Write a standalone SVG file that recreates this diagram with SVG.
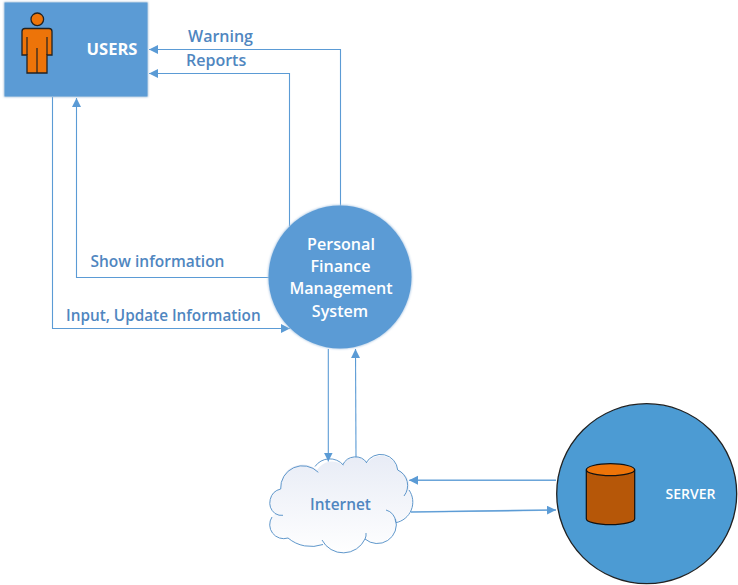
<svg xmlns="http://www.w3.org/2000/svg" width="738" height="585" viewBox="0 0 738 585">
<style>
.c{fill:none;stroke:#5b9bd5;stroke-width:1.1}
.c2{fill:none;stroke:#9cc3e6;stroke-width:1.6}
.l{font-family:"Open Sans","Liberation Sans",sans-serif;font-weight:600;font-size:15.4px;fill:#4f86c0}
.w{font-family:"Open Sans","Liberation Sans",sans-serif;font-weight:600;font-size:16.1px;fill:#fff;text-anchor:middle}
.o{fill:#ed7409;stroke:#222;stroke-width:1.3}
.k{fill:none;stroke:#5f97cb;stroke-width:1}
</style>
<defs>
<marker id="a" markerUnits="userSpaceOnUse" markerWidth="10" markerHeight="10" refX="9" refY="4.5" orient="auto"><path d="M0 0L9 4.5L0 9z" fill="#5b9bd5"/></marker>
<linearGradient id="g" x1="0" y1="0" x2="0" y2="1"><stop offset="0" stop-color="#e8ecf6"/><stop offset="1" stop-color="#fff"/></linearGradient>
<filter id="s" x="-10%" y="-10%" width="120%" height="120%"><feGaussianBlur stdDeviation="0.8"/></filter>
</defs>
<g id="connectors">
<path class="c" d="M340.500 206V49.500H149" marker-end="url(#a)"/>
<path class="c" d="M289.500 226V73.500H149" marker-end="url(#a)"/>
<path class="c" d="M270 277.500H76.500V98" marker-end="url(#a)"/>
<path class="c" d="M52.500 97V328.500H290" marker-end="url(#a)"/>
<path class="c" d="M328.300 349V461.500" marker-end="url(#a)"/>
<path class="c" d="M356 457.500L355.500 349" marker-end="url(#a)"/>
<path class="c2" d="M556 480.200H410"/><path class="c" d="M556 480.200H409" marker-end="url(#a)"/>
<path class="c2" d="M411 512L556 510"/><path class="c" d="M411 512L556 510" marker-end="url(#a)"/>
</g>
<g id="users">
<rect x="4" y="2" width="144" height="95" fill="#9db9d4" filter="url(#s)"/>
<rect x="4.500" y="2.500" width="143" height="94" fill="#5b9bd5"/>
<circle class="o" cx="37.300" cy="19.300" r="6.300"/>
<path class="o" d="M25 28.500H49Q52 28.500 52 31.500V55H47V73H27V55H22V31.500Q22 28.500 25 28.500Z"/>
<path fill="none" stroke="#222" stroke-width="1.200" d="M27 37V55M47 37V55M37 48V73"/>
<text class="w" x="112" y="55" style="font-size:16.500px;font-weight:700">USERS</text>
</g>
<g id="pfms">
<circle cx="340" cy="277" r="72" fill="#a9c6e3" filter="url(#s)"/>
<circle cx="340" cy="277" r="71.500" fill="#5b9bd5"/>
<text class="w" x="341" y="249.500">Personal</text>
<text class="w" x="340.500" y="271.500">Finance</text>
<text class="w" x="341" y="293.500">Management</text>
<text class="w" x="340" y="316.500">System</text>
</g>
<g id="internet">
<path fill="url(#g)" d="M288 538A14 14 0 0 1 272 517L275 513.500A14 14 0 0 1 280.700 489A22 22 0 0 1 317 470A18 18 0 0 1 343 465A14 14 0 0 1 367 463A17 17 0 0 1 397.700 470A17 17 0 0 1 409 490A21 21 0 0 1 395.500 522A19 19 0 0 1 365 539A24 24 0 0 1 322 545A36 36 0 0 1 288 538Z"/>
<path class="k" d="M288 538A14 14 0 0 1 272 517M283 515.300Q279 516 275 513.500A14 14 0 0 1 280.700 489A22 22 0 0 1 318.300 472.300M315 466.500A18 18 0 0 1 343.300 465M342.700 465A14 14 0 0 1 367 463M366 463A17 17 0 0 1 397.700 470A17 17 0 0 1 404 496M409 490A21 21 0 0 1 395.700 522.700M395.700 522A13 13 0 0 0 386 510M395.500 519A19 19 0 0 1 365 539M366 533Q366.500 536 365 539A24 24 0 0 1 322 540M323 544.500A36 36 0 0 1 288 538"/>
<text class="l" x="340.500" y="509.500" text-anchor="middle">Internet</text>
</g>
<g id="server">
<circle cx="646.700" cy="493.700" r="90" fill="#4c9bd3" stroke="#222" stroke-width="1.300"/>
<path fill="#b65708" stroke="#111" stroke-width="1.200" d="M586.300 469.700V518.700C586.300 522 597 524.700 610.500 524.700S634.700 522 634.700 518.700V469.700"/>
<ellipse cx="610.500" cy="469.700" rx="24.200" ry="6" fill="#ed7409" stroke="#111" stroke-width="1.200"/>
<text class="w" x="690.500" y="499" style="font-size:14px">SERVER</text>
</g>
<g id="labels">
<text class="l" x="188" y="41.500" style="font-size:16px">Warning</text>
<text class="l" x="186" y="65.500" style="font-size:16px">Reports</text>
<text class="l" x="90.500" y="267" style="font-size:15.500px">Show information</text>
<text class="l" x="66" y="321" style="font-size:15.300px">Input, Update Information</text>
</g>
</svg>
